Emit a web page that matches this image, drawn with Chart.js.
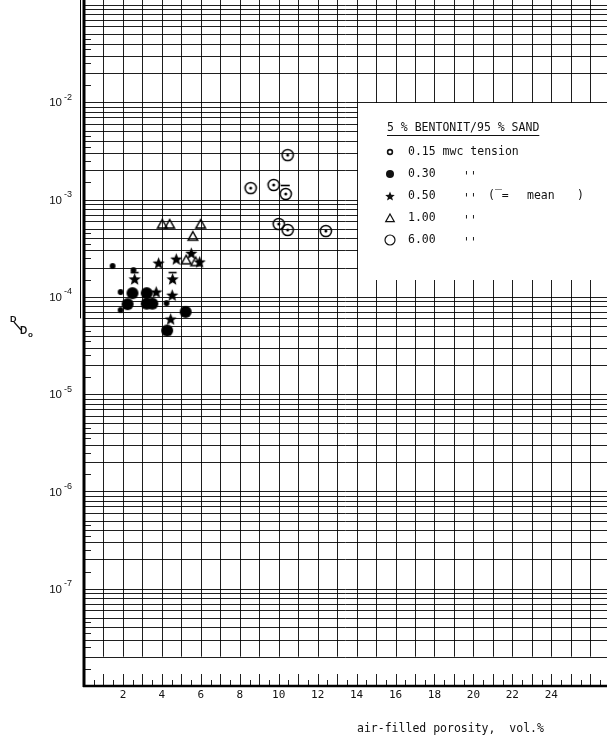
<!DOCTYPE html>
<html>
<head>
<meta charset="utf-8">
<script src="https://cdn.jsdelivr.net/npm/chart.js@4/dist/chart.umd.min.js"></script>
<style>
html,body{margin:0;padding:0;background:#fff;}
#wrap{width:607px;height:744px;position:relative;}
</style>
</head>
<body>
<div id="wrap"><canvas id="c" width="607" height="744"></canvas></div>
<script>
// ---- data ----
const xTickLabels = [2, 4, 6, 8, 10, 12, 14, 16, 18, 20, 22, 24];
const yTickExponents = [-2, -3, -4, -5, -6, -7];
const seriesNames = ['0.15', '0.30', '0.50', '1.00', '6.00'];
const legendTitle = '5 % BENTONIT/95 % SAND';
const xTitle = 'air-filled porosity,  vol.%';

// 0.15 mwc tension (small dots)
const x015 = [1.47, 2.54, 1.88, 1.88, 4.24];
const y015 = [2.07e-4, 1.88e-4, 1.12e-4, 7.3e-5, 8.6e-5];
// 0.30 (big dots)
const x030 = [2.49, 3.22, 2.24, 3.22, 3.51, 5.22, 4.27];
const y030 = [1.09e-4, 1.09e-4, 8.4e-5, 8.5e-5, 8.5e-5, 7.0e-5, 4.5e-5];
// 0.50 (stars), with mean flags
const x050 = [3.83, 4.74, 5.51, 5.94, 4.55, 2.60, 3.71, 4.53, 4.45];
const y050 = [2.22e-4, 2.44e-4, 2.80e-4, 2.28e-4, 1.52e-4, 1.52e-4, 1.12e-4, 1.04e-4, 5.9e-5];
const mean050 = [false, false, false, false, true, true, false, false, false];
// 1.00 (triangles)
const x100 = [4.02, 4.40, 5.99, 5.59, 5.25, 5.73];
const y100 = [5.6e-4, 5.6e-4, 5.6e-4, 4.2e-4, 2.4e-4, 2.3e-4];
// 6.00 (circles), with mean flags
const x600 = [10.46, 8.56, 9.74, 10.36, 10.0, 10.46, 12.42];
const y600 = [2.86e-3, 1.31e-3, 1.41e-3, 1.14e-3, 5.6e-4, 4.86e-4, 4.74e-4];
const mean600 = [false, false, false, true, false, false, false];

// ---- marker images ----
function makeCanvas(w, h, draw) {
  const c = document.createElement('canvas');
  c.width = w; c.height = h;
  const g = c.getContext('2d');
  g.fillStyle = '#000'; g.strokeStyle = '#000';
  draw(g);
  return c;
}
function starPath(g, cx, cy, ro, ri) {
  g.beginPath();
  for (let i = 0; i < 10; i++) {
    const r = i % 2 === 0 ? ro : ri;
    const a = -Math.PI / 2 + i * Math.PI / 5;
    const px = cx + r * Math.cos(a), py = cy + r * Math.sin(a);
    if (i === 0) g.moveTo(px, py); else g.lineTo(px, py);
  }
  g.closePath();
}
function triPath(g, cx, cy, s) {
  g.beginPath();
  g.moveTo(cx, cy - s);
  g.lineTo(cx + s * 0.95, cy + s * 0.7);
  g.lineTo(cx - s * 0.95, cy + s * 0.7);
  g.closePath();
}
const imgSmallDot = makeCanvas(8, 8, g => { g.beginPath(); g.arc(4, 4, 2.9, 0, 2 * Math.PI); g.fill(); });
const imgBigDot = makeCanvas(14, 14, g => { g.beginPath(); g.arc(7, 7, 6, 0, 2 * Math.PI); g.fill(); });
const imgStar = makeCanvas(15, 15, g => { starPath(g, 7.5, 8, 6.5, 2.8); g.fill(); });
const imgStarMean = makeCanvas(15, 30, g => {
  starPath(g, 7.5, 15.5, 6.5, 2.8); g.fill();
  g.lineWidth = 1.6; g.beginPath(); g.moveTo(3.5, 8.5); g.lineTo(11.5, 8.5); g.stroke();
});
const imgTri = makeCanvas(14, 14, g => { g.lineWidth = 1.5; triPath(g, 7, 7.5, 5); g.stroke(); });
const imgRing = makeCanvas(16, 16, g => {
  g.lineWidth = 1.5; g.beginPath(); g.arc(8, 8, 5.6, 0, 2 * Math.PI); g.stroke();
  g.beginPath(); g.arc(8, 8, 1.5, 0, 2 * Math.PI); g.fill();
});
const imgRingMean = makeCanvas(16, 34, g => {
  g.lineWidth = 1.5; g.beginPath(); g.arc(8, 17, 5.6, 0, 2 * Math.PI); g.stroke();
  g.beginPath(); g.arc(8, 17, 1.5, 0, 2 * Math.PI); g.fill();
  g.lineWidth = 1.6; g.beginPath(); g.moveTo(3, 8.5); g.lineTo(12, 8.5); g.stroke();
});

function pts(xs, ys) { return xs.map((x, i) => ({ x: x, y: ys[i] })); }

const datasets = [
  { label: seriesNames[0], data: pts(x015, y015), pointStyle: imgSmallDot },
  { label: seriesNames[1], data: pts(x030, y030), pointStyle: imgBigDot },
  { label: seriesNames[2], data: pts(x050, y050), pointStyle: mean050.map(m => m ? imgStarMean : imgStar) },
  { label: seriesNames[3], data: pts(x100, y100), pointStyle: imgTri },
  { label: seriesNames[4], data: pts(x600, y600), pointStyle: mean600.map(m => m ? imgRingMean : imgRing) }
].map(d => Object.assign(d, { showLine: false, pointRadius: 5, backgroundColor: '#000', borderColor: '#000' }));

const MONO = '"DejaVu Sans Mono", monospace';
const SANS = '"Liberation Sans", Arial, sans-serif';

const paperPlugin = {
  id: 'paper',
  beforeDatasetsDraw(chart) {
    const ctx = chart.ctx, xs = chart.scales.x, ys = chart.scales.y;
    const { left, top, bottom } = chart.chartArea;
    const right = chart.width;
    ctx.save();
    ctx.strokeStyle = 'rgba(0,0,0,0.88)';
    ctx.lineWidth = 1;
    const line = (x1, y1, x2, y2) => { ctx.beginPath(); ctx.moveTo(x1, y1); ctx.lineTo(x2, y2); ctx.stroke(); };
    for (let e = -8; e <= -1; e++) {
      for (let m = 1; m <= 9; m++) {
        const v = m * Math.pow(10, e);
        if (v <= 1.0001e-8 || v > ys.max) continue;
        const py = Math.round(ys.getPixelForValue(v)) + 0.5;
        line(left, py, right, py);
      }
      [1.5, 2.5, 3.5, 4.5].forEach(m => {
        const v = m * Math.pow(10, e);
        if (v <= 1e-8 || v > ys.max) return;
        const py = Math.round(ys.getPixelForValue(v)) + 0.5;
        line(left, py, left + 7, py);
      });
    }
    const yStrip = ys.getPixelForValue(2e-8);
    for (let k = 1; k <= 27; k++) {
      const px = Math.round(xs.getPixelForValue(k)) + 0.5;
      if (px > right + 1) break;
      line(px, top, px, yStrip);
    }
    for (let k = 0.5; k <= 27; k += 0.5) {
      const px = Math.round(xs.getPixelForValue(k)) + 0.5;
      if (px > right + 1) break;
      const len = Number.isInteger(k) ? 12 : 6;
      line(px, bottom, px, bottom - len);
    }
    const bx = Math.round(xs.getPixelForValue(14)) + 1;
    const byTop = Math.round(ys.getPixelForValue(1e-2)) + 1;
    const byBot = Math.round(ys.getPixelForValue(1.5e-4));
    ctx.fillStyle = '#fff';
    ctx.fillRect(bx, byTop, right - bx + 2, byBot - byTop);
    ctx.strokeStyle = '#000';
    ctx.lineWidth = 3;
    line(left, top, left, bottom + 1);
    ctx.lineWidth = 1;
    line(left - 3.5, top, left - 3.5, ys.getPixelForValue(6e-5));
    ctx.lineWidth = 2.5;
    line(left - 1, bottom, right, bottom);
    ctx.restore();
  },
  afterDatasetsDraw(chart) {
    const ctx = chart.ctx, xs = chart.scales.x, ys = chart.scales.y;
    const bottom = chart.chartArea.bottom;
    ctx.save();
    ctx.fillStyle = '#111';
    ctx.strokeStyle = '#111';
    ctx.font = '11px ' + MONO;
    ctx.textAlign = 'center'; ctx.textBaseline = 'top';
    xTickLabels.forEach(v => ctx.fillText(String(v), xs.getPixelForValue(v), bottom + 4));
    yTickExponents.forEach(e => {
      const py = ys.getPixelForValue(Math.pow(10, e));
      ctx.font = '11.5px ' + SANS;
      ctx.textAlign = 'right'; ctx.textBaseline = 'middle';
      ctx.fillText('10', 62, py + 1);
      ctx.font = '9px ' + SANS;
      ctx.textAlign = 'left';
      ctx.fillText('-' + String(-e), 64, py - 5);
    });
    ctx.font = 'bold 9px ' + SANS;
    ctx.textAlign = 'left'; ctx.textBaseline = 'alphabetic';
    ctx.fillText('D', 10, 322);
    ctx.lineWidth = 1.2;
    ctx.beginPath(); ctx.moveTo(14, 322); ctx.lineTo(21, 330); ctx.stroke();
    ctx.font = 'bold 10px ' + SANS;
    ctx.fillText('D', 20, 334);
    ctx.font = 'bold 8px ' + SANS;
    ctx.fillText('o', 28, 337);
    ctx.font = '11.5px ' + MONO;
    ctx.textAlign = 'left'; ctx.textBaseline = 'middle';
    ctx.fillText(xTitle, 357, 729);
    const L = Math.round(xs.getPixelForValue(14));
    ctx.font = '11.5px ' + MONO;
    ctx.textBaseline = 'middle';
    ctx.fillText(legendTitle, L + 30, 128);
    const tw = ctx.measureText(legendTitle).width;
    ctx.lineWidth = 1;
    ctx.beginPath(); ctx.moveTo(L + 30, 135.5); ctx.lineTo(L + 30 + tw, 135.5); ctx.stroke();
    const rowsY = [152, 174, 196, 218, 240];
    const mx = L + 33, tx = L + 51;
    const ditto = "''";
    ctx.lineWidth = 1.6;
    ctx.beginPath(); ctx.arc(mx, rowsY[0], 2.4, 0, 2 * Math.PI); ctx.stroke();
    ctx.beginPath(); ctx.arc(mx, rowsY[1], 4, 0, 2 * Math.PI); ctx.fill();
    starPath(ctx, mx, rowsY[2] + 0.5, 5, 2.2); ctx.fill();
    ctx.lineWidth = 1.2;
    triPath(ctx, mx, rowsY[3] + 0.5, 4.5); ctx.stroke();
    ctx.lineWidth = 1.2;
    ctx.beginPath(); ctx.arc(mx, rowsY[4], 5, 0, 2 * Math.PI); ctx.stroke();
    ctx.fillText(seriesNames[0] + ' mwc tension', tx, rowsY[0]);
    for (let i = 1; i < 5; i++) {
      ctx.fillText(seriesNames[i], tx, rowsY[i]);
      ctx.fillText(ditto, tx + 55, rowsY[i] + 3);
    }
    ctx.fillText('(\u203E=', tx + 80, rowsY[2]);
    ctx.fillText('mean', tx + 119, rowsY[2]);
    ctx.fillText(')', tx + 169, rowsY[2]);
    ctx.restore();
  }
};

new Chart(document.getElementById('c'), {
  type: 'scatter',
  data: { datasets: datasets },
  plugins: [paperPlugin],
  options: {
    responsive: false,
    animation: false,
    devicePixelRatio: 1,
    clip: false,
    layout: { padding: 0, autoPadding: false },
    plugins: { legend: { display: false }, tooltip: { enabled: false }, title: { display: false } },
    scales: {
      x: {
        type: 'linear', min: 0, max: 26.86, position: 'bottom',
        grid: { display: false, drawTicks: false },
        border: { display: false },
        ticks: { display: false },
        afterFit: s => { s.height = 58; }
      },
      y: {
        type: 'logarithmic', min: 1e-8, max: 0.1123, position: 'left',
        grid: { display: false, drawTicks: false },
        border: { display: false },
        ticks: { display: false },
        afterFit: s => { s.width = 84; }
      }
    }
  }
});
</script>
</body>
</html>
